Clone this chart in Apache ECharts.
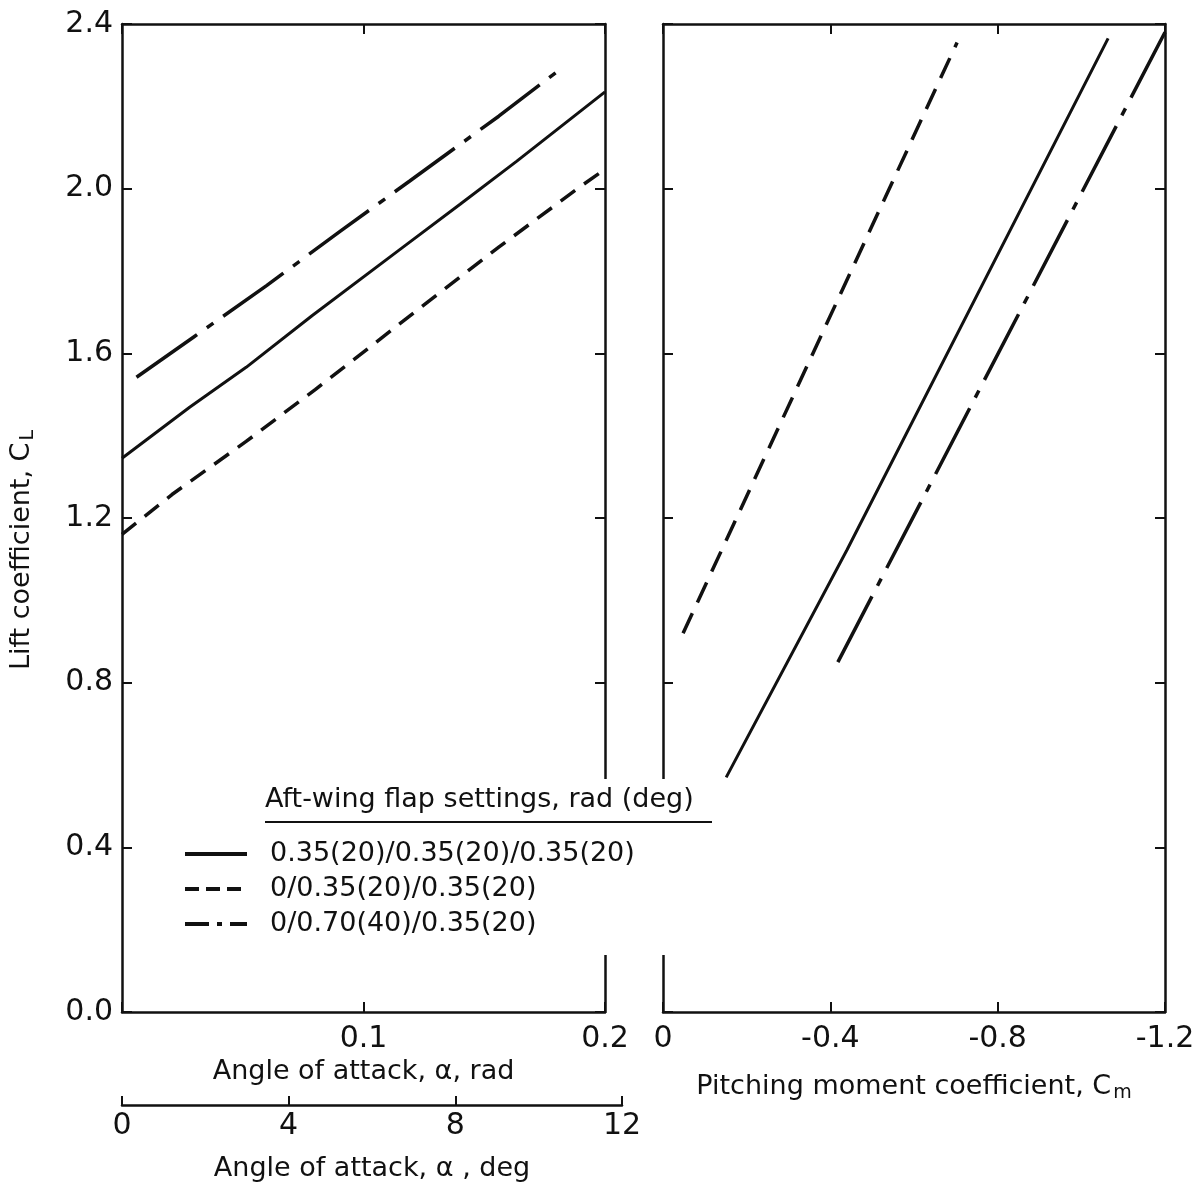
<!DOCTYPE html>
<html>
<head>
<meta charset="utf-8">
<script src="https://cdn.jsdelivr.net/npm/echarts@6/dist/echarts.min.js"></script>
<style>
  html, body { margin: 0; background: #fff; }
  #chart { width: 1193px; height: 1187px; }
</style>
</head>
<body>
<div id="chart"></div>
<script>
// flap settings (legend)
const flapNames = ['0.35(20)/0.35(20)/0.35(20)', '0/0.35(20)/0.35(20)', '0/0.70(40)/0.35(20)']

// left panel: angle of attack (rad) -> CL
const alphaSolid = [0, 0.028, 0.0514, 0.0788, 0.115, 0.14, 0.1635, 0.2]
const clSolid    = [1.345, 1.469, 1.566, 1.692, 1.852, 1.962, 2.067, 2.235]
const alphaDash  = [0, 0.0207, 0.0514, 0.080, 0.128, 0.156, 0.19, 0.2]
const clDash     = [1.16, 1.257, 1.386, 1.512, 1.731, 1.858, 2.006, 2.047]
const alphaDot   = [0.006, 0.03, 0.06, 0.09, 0.119, 0.156, 0.181]
const clDot      = [1.542, 1.641, 1.765, 1.895, 2.018, 2.176, 2.288]

// right panel: pitching moment Cm -> CL
const cmSolid    = [-0.151, -0.44, -1.064]
const clCmSolid  = [0.57, 1.123, 2.365]
const cmDash     = [-0.048, -0.703]
const clCmDash   = [0.92, 2.355]
const cmDot      = [-0.418, -1.2]
const clCmDot    = [0.85, 2.38]

// axis ranges [min, max, interval]
const clAxis  = [0, 2.4, 0.4]
const radAxis = [0, 0.2, 0.1]
const cmAxis  = [-1.2, 0, 0.4]
const degAxis = [0, 12, 4]

const zip = (xs, ys) => xs.map((x, i) => [x, ys[i]])
const ink = '#111'
const font = 'DejaVu Sans'

const dashType = [18, 11]
const dotType = [74, 12, 8, 12]

const axisLine = { show: true, onZero: false, lineStyle: { color: ink, width: 2.5 } }
const tick = { show: true, inside: true, length: 10, lineStyle: { color: ink, width: 2 } }
const label = { color: ink, fontSize: 30, fontFamily: font }
const nameStyle = { color: ink, fontSize: 27, fontFamily: font,
  rich: { sub: { fontSize: 19, fontFamily: font, color: ink, verticalAlign: 'bottom', padding: [14, 0, 0, 2] } } }

function frame(gridIndex, r, position) {
  return { gridIndex, type: 'value', min: r[0], max: r[1], interval: r[2], position,
    axisLine, axisTick: tick, axisLabel: { show: false }, splitLine: { show: false } }
}

const chart = echarts.init(document.getElementById('chart'))

chart.setOption({
  animation: false,
  backgroundColor: '#fff',
  grid: [
    { left: 122, top: 24, width: 483, height: 988, outerBoundsMode: 'none' },
    { left: 663, top: 24, width: 502, height: 988, outerBoundsMode: 'none' },
    { left: 122, top: 1095, width: 500, height: 10, outerBoundsMode: 'none' }
  ],
  xAxis: [
    { ...frame(0, radAxis, 'bottom'),
      axisLabel: { ...label, margin: 12, formatter: v => v === 0 ? '' : v.toFixed(1) },
      name: 'Angle of attack, α, rad', nameLocation: 'middle', nameGap: 38, nameTextStyle: nameStyle },
    frame(0, radAxis, 'top'),
    { ...frame(1, cmAxis, 'bottom'), inverse: true,
      axisLabel: { ...label, margin: 12, formatter: v => Math.abs(v) < 1e-9 ? '0' : v.toFixed(1) },
      name: 'Pitching moment coefficient, C{sub|m}', nameLocation: 'middle', nameGap: 58, nameTextStyle: nameStyle },
    { ...frame(1, cmAxis, 'top'), inverse: true },
    { ...frame(2, degAxis, 'bottom'), axisTick: { ...tick, length: 9 },
      axisLabel: { ...label, margin: 6 },
      name: 'Angle of attack, α , deg', nameLocation: 'middle', nameGap: 50, nameTextStyle: nameStyle }
  ],
  yAxis: [
    { ...frame(0, clAxis, 'left'),
      axisLabel: { ...label, margin: 9, formatter: v => v.toFixed(1) },
      name: 'Lift coefficient, C{sub|L}', nameLocation: 'middle', nameGap: 84,
      nameTextStyle: { ...nameStyle, padding: [0, 64, 0, 0] } },
    frame(0, clAxis, 'right'),
    frame(1, clAxis, 'left'),
    frame(1, clAxis, 'right'),
    { gridIndex: 2, type: 'value', show: false }
  ],
  legend: {
    orient: 'vertical', left: 183, top: 839, z: 60, padding: 0,
    itemWidth: 62, itemHeight: 14, itemGap: 5, selectedMode: false,
    itemStyle: { color: 'rgba(0,0,0,0)', borderWidth: 0, opacity: 0 },
    textStyle: { color: ink, fontSize: 27, fontFamily: font, lineHeight: 30, padding: [0, 0, 0, 18] },
    data: [
      { name: flapNames[0], lineStyle: { type: 'solid', width: 4 } },
      { name: flapNames[1], lineStyle: { type: [14, 7], width: 4 } },
      { name: flapNames[2], lineStyle: { type: [24, 8, 5, 8], width: 4 } }
    ]
  },
  graphic: [
    { type: 'rect', z: 50, shape: { x: 165, y: 779, width: 557, height: 176 }, style: { fill: '#fff' } },
    { type: 'text', z: 51, x: 265, y: 786,
      style: { text: 'Aft-wing flap settings, rad (deg)', fill: ink, font: '27px "DejaVu Sans"' } },
    { type: 'line', z: 51, shape: { x1: 265, y1: 822, x2: 712, y2: 822 }, style: { stroke: ink, lineWidth: 2 } }
  ],
  series: [
    { name: flapNames[0], type: 'line', xAxisIndex: 0, yAxisIndex: 0, data: zip(alphaSolid, clSolid),
      symbol: 'none', color: ink, lineStyle: { color: ink, width: 3 } },
    { name: flapNames[1], type: 'line', xAxisIndex: 0, yAxisIndex: 0, data: zip(alphaDash, clDash),
      symbol: 'none', color: ink, lineStyle: { color: ink, width: 3.5, type: dashType } },
    { name: flapNames[2], type: 'line', xAxisIndex: 0, yAxisIndex: 0, data: zip(alphaDot, clDot),
      symbol: 'none', color: ink, lineStyle: { color: ink, width: 3.5, type: dotType } },
    { name: flapNames[0], type: 'line', xAxisIndex: 2, yAxisIndex: 2, data: zip(cmSolid, clCmSolid),
      symbol: 'none', color: ink, lineStyle: { color: ink, width: 3 } },
    { name: flapNames[1], type: 'line', xAxisIndex: 2, yAxisIndex: 2, data: zip(cmDash, clCmDash),
      symbol: 'none', color: ink, lineStyle: { color: ink, width: 3.5, type: [22, 12] } },
    { name: flapNames[2], type: 'line', xAxisIndex: 2, yAxisIndex: 2, data: zip(cmDot, clCmDot),
      symbol: 'none', color: ink, lineStyle: { color: ink, width: 3.5, type: dotType } }
  ]
})
</script>
</body>
</html>
